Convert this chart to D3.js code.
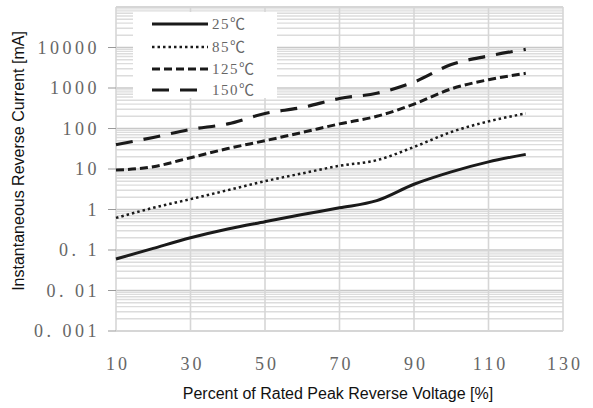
<!DOCTYPE html>
<html>
<head>
    <script src="https://d3js.org/d3.v7.min.js"></script>
    <style>
        body { margin: 0; background: #fff; }
    </style>
</head>
<body>
    <svg width="593" height="408"></svg>
    <script>
        // percent of rated peak reverse voltage
        var voltage = [10, 20, 30, 40, 50, 60, 70, 80, 90, 100, 110, 120];
        // reverse current [mA] per temperature
        var i25  = [0.06, 0.11, 0.2, 0.33, 0.5, 0.75, 1.1, 1.65, 4.2, 8.5, 15, 23];
        var i85  = [0.62, 1.1, 1.8, 3.0, 5.0, 7.8, 12, 16.5, 35, 82, 150, 235];
        var i125 = [9.4, 11.4, 19, 32, 50, 80, 130, 200, 400, 950, 1600, 2300];
        var i150 = [40, 60, 95, 130, 235, 330, 550, 740, 1400, 3800, 6200, 9000];

        var seriesNames = ["25\u2103", "85\u2103", "125\u2103", "150\u2103"];
        var xTicks = [10, 30, 50, 70, 90, 110, 130];
        var yTicks = [0.001, 0.01, 0.1, 1, 10, 100, 1000, 10000];
        var yTickLabels = ["0. 001", "0. 01", "0. 1", "1", "10", "100", "1000", "10000"];

        var svg = d3.select("svg"),
            plotLeft = 116, plotRight = 563, plotTop = 7, plotBottom = 331;

        var x = d3.scaleLinear().domain([10, 130]).range([plotLeft, plotRight]);
        var y = d3.scaleLog().domain([0.001, 100000]).range([plotBottom, plotTop]);

        // horizontal grid: minor then major
        var minors = [];
        for (var e = -3; e < 5; e++) {
            for (var m = 2; m <= 9; m++) minors.push(m * Math.pow(10, e));
        }
        svg.append("g").selectAll("line").data(minors).enter().append("line")
            .attr("x1", plotLeft).attr("x2", plotRight)
            .attr("y1", function(d) { return y(d); })
            .attr("y2", function(d) { return y(d); })
            .attr("stroke", "#dcdcdc").attr("stroke-width", 1.4);

        svg.append("g").selectAll("line").data(yTicks.concat([100000])).enter().append("line")
            .attr("x1", plotLeft).attr("x2", plotRight)
            .attr("y1", function(d) { return y(d); })
            .attr("y2", function(d) { return y(d); })
            .attr("stroke", "#c8c8c8").attr("stroke-width", 1.3);

        // vertical grid
        svg.append("g").selectAll("line").data(xTicks).enter().append("line")
            .attr("x1", function(d) { return x(d); })
            .attr("x2", function(d) { return x(d); })
            .attr("y1", plotTop).attr("y2", plotBottom)
            .attr("stroke", "#d6d6d6").attr("stroke-width", 1.6);

        // y axis tick marks and labels
        svg.append("g").selectAll("line").data(yTicks).enter().append("line")
            .attr("x1", plotLeft - 8).attr("x2", plotLeft)
            .attr("y1", function(d) { return y(d); })
            .attr("y2", function(d) { return y(d); })
            .attr("stroke", "#999").attr("stroke-width", 1);

        svg.append("g").selectAll("text").data(yTicks).enter().append("text")
            .attr("x", 100)
            .attr("y", function(d) { return y(d) + 6; })
            .attr("text-anchor", "end")
            .attr("font-family", "Liberation Serif, serif")
            .attr("font-size", 18)
            .attr("letter-spacing", 3.5)
            .attr("fill", "#666")
            .text(function(d, i) { return yTickLabels[i]; });

        svg.append("g").selectAll("text").data(xTicks).enter().append("text")
            .attr("x", function(d) { return x(d) + 2; })
            .attr("y", 370)
            .attr("text-anchor", "middle")
            .attr("font-family", "Liberation Serif, serif")
            .attr("font-size", 18)
            .attr("letter-spacing", 3)
            .attr("fill", "#666")
            .text(function(d) { return d; });

        // axis titles
        svg.append("text")
            .attr("x", 338).attr("y", 399)
            .attr("text-anchor", "middle")
            .attr("font-family", "Liberation Sans, Arial, sans-serif")
            .attr("font-size", 16)
            .attr("fill", "#111")
            .text("Percent of Rated Peak Reverse Voltage [%]");

        svg.append("text")
            .attr("transform", "translate(24,161) rotate(-90)")
            .attr("text-anchor", "middle")
            .attr("font-family", "Liberation Sans, Arial, sans-serif")
            .attr("font-size", 16)
            .attr("fill", "#111")
            .text("Instantaneous Reverse Current [mA]");

        // curves
        var styles = [
            {data: i25,  width: 3,   dash: null},
            {data: i85,  width: 2.5, dash: "2.5,3"},
            {data: i125, width: 3,   dash: "8,4"},
            {data: i150, width: 3.2, dash: "17,11"}
        ];

        var line = d3.line()
            .x(function(d, i) { return x(voltage[i]); })
            .y(function(d) { return y(d); })
            .curve(d3.curveMonotoneX);

        svg.append("g").selectAll("path").data(styles).enter().append("path")
            .attr("d", function(d) { return line(d.data); })
            .attr("fill", "none")
            .attr("stroke", "#1a1a1a")
            .attr("stroke-width", function(d) { return d.width; })
            .attr("stroke-dasharray", function(d) { return d.dash; });

        // legend
        var legend = svg.append("g");
        legend.append("rect")
            .attr("x", 133).attr("y", 12)
            .attr("width", 144).attr("height", 86)
            .attr("fill", "#fff");

        var legendY = [24, 47, 69, 90];
        var items = legend.selectAll("g").data(styles).enter().append("g");
        items.append("line")
            .attr("x1", 152).attr("x2", 208)
            .attr("y1", function(d, i) { return legendY[i]; })
            .attr("y2", function(d, i) { return legendY[i]; })
            .attr("stroke", "#1a1a1a")
            .attr("stroke-width", function(d) { return d.width; })
            .attr("stroke-dasharray", function(d) { return d.dash; });
        items.append("text")
            .attr("x", 212)
            .attr("y", function(d, i) { return legendY[i] + 5; })
            .attr("font-family", "Liberation Serif, Noto Sans CJK SC, serif")
            .attr("font-size", 15)
            .attr("letter-spacing", 1.5)
            .attr("fill", "#666")
            .text(function(d, i) { return seriesNames[i]; });
    </script>
</body>
</html>
